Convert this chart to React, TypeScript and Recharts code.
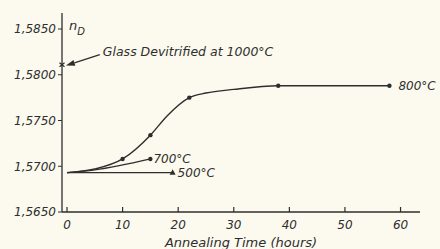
import { LineChart, Line, XAxis, YAxis, ReferenceDot, ReferenceLine } from "recharts";

// annealing time (hours) and refractive index n_D
const hours800 = [0, 5, 10, 15, 18, 22, 25, 30, 38, 58];
const nD800 = [1.5693, 1.5697, 1.5708, 1.5734, 1.5755, 1.5775, 1.5780, 1.5784, 1.5788, 1.5788];
const dots800 = [false, false, true, true, false, true, false, false, true, true];

const hours700 = [0, 5, 15];
const nD700 = [1.5693, 1.5696, 1.5708];

const hours500 = [0, 19];
const nD500 = [1.5693, 1.5693];

const xTicks = [0, 10, 20, 30, 40, 50, 60];
const yTicks = [1.565, 1.57, 1.575, 1.58, 1.585];

// devitrified glass marker and its arrow (data coordinates)
const devitrified = { hours: -0.9, nD: 1.5811 };
const arrowFrom = { hours: 5.9, nD: 1.5822 };
const arrowTo = { hours: -0.2, nD: 1.5810 };

const ink = "#2e2e2e";
const font = "'DejaVu Sans', sans-serif";

const data800 = hours800.map((h, i) => ({ hours: h, nD: nD800[i], dot: dots800[i] }));
const data700 = hours700.map((h, i) => ({ hours: h, nD: nD700[i] }));
const data500 = hours500.map((h, i) => ({ hours: h, nD: nD500[i] }));

const fmtY = (v: number) => v.toFixed(4).replace(".", ",");

function XTick(props: any) {
  const { x, y, payload } = props;
  return (
    <g>
      <line x1={x} y1={y} x2={x} y2={y - 5} stroke={ink} strokeWidth={1.2} />
      <text x={x} y={y + 17} textAnchor="middle" fontSize={12} fontStyle="italic" fill={ink} fontFamily={font}>
        {payload.value}
      </text>
    </g>
  );
}

const endLabel = (text: string, count: number, dx: number) => (props: any) => {
  const { x, y, index } = props;
  if (index !== count - 1) return null;
  return (
    <text x={x + dx} y={y + 4} fontSize={12} fontStyle="italic" fill={ink} fontFamily={font}>
      {text}
    </text>
  );
};

const roundDot = (props: any) => {
  const { cx, cy, payload } = props;
  if (!payload.dot) return <g key={props.key} />;
  return <circle key={props.key} cx={cx} cy={cy} r={2.2} fill={ink} />;
};

const endDot = (count: number, tri: boolean) => (props: any) => {
  const { cx, cy, index } = props;
  if (index !== count - 1) return <g key={props.key} />;
  if (tri) return <polygon key={props.key} points={`${cx},${cy - 3.5} ${cx - 3},${cy + 2} ${cx + 3},${cy + 2}`} fill={ink} />;
  return <circle key={props.key} cx={cx} cy={cy} r={2.2} fill={ink} />;
};

const Arrow = (props: any) => {
  const { x1, y1, x2, y2 } = props;
  const a = Math.atan2(y2 - y1, x2 - x1);
  const L = 9;
  const W = 3;
  const bx = x2 - L * Math.cos(a);
  const by = y2 - L * Math.sin(a);
  const px = -Math.sin(a) * W;
  const py = Math.cos(a) * W;
  return (
    <g>
      <line x1={x1} y1={y1} x2={bx} y2={by} stroke={ink} strokeWidth={1.4} />
      <polygon points={`${x2},${y2} ${bx + px},${by + py} ${bx - px},${by - py}`} fill={ink} />
    </g>
  );
};

const Cross = (props: any) => {
  const { cx, cy } = props;
  return (
    <g stroke={ink} strokeWidth={1.2}>
      <line x1={cx - 2.5} y1={cy - 2} x2={cx + 2.5} y2={cy + 2} />
      <line x1={cx - 2.5} y1={cy + 2} x2={cx + 2.5} y2={cy - 2} />
    </g>
  );
};

const NdLabel = (props: any) => {
  const { viewBox } = props;
  const x = viewBox.x + viewBox.width + 7;
  const y = viewBox.y + 17;
  return (
    <text x={x} y={y} fontSize={13} fontStyle="italic" fill={ink} fontFamily={font}>
      n
      <tspan fontSize={10} dy={5}>
        D
      </tspan>
    </text>
  );
};

export default function App() {
  return (
    <div style={{ position: "absolute", left: 0, top: 0, width: 440, height: 249, background: "#fcfaee" }}>
      <LineChart width={440} height={249} margin={{ top: 13, right: 20, left: 0, bottom: 0 }}>
        <XAxis
          dataKey="hours"
          type="number"
          domain={[-0.9, 63.5]}
          ticks={xTicks}
          allowDataOverflow
          height={37}
          tickSize={0}
          tickMargin={0}
          tickLine={false}
          tick={<XTick />}
          axisLine={{ stroke: ink, strokeWidth: 1.3 }}
          label={{
            value: "Annealing Time (hours)",
            position: "insideBottom",
            offset: 2,
            fontSize: 13,
            fontStyle: "italic",
            fill: ink,
            fontFamily: font,
          }}
        />
        <YAxis
          type="number"
          domain={[1.565, 1.58675]}
          ticks={yTicks}
          allowDataOverflow
          width={62}
          tickSize={4}
          tickFormatter={fmtY}
          tick={{ fontSize: 12, fontStyle: "italic", fill: ink, fontFamily: font }}
          tickLine={{ stroke: ink }}
          axisLine={{ stroke: ink, strokeWidth: 1.3 }}
          label={<NdLabel />}
        />
        <Line
          data={data800}
          dataKey="nD"
          type="monotone"
          stroke={ink}
          strokeWidth={1.4}
          dot={roundDot}
          activeDot={false}
          label={endLabel("800°C", data800.length, 9)}
          isAnimationActive={false}
        />
        <Line
          data={data700}
          dataKey="nD"
          type="monotone"
          stroke={ink}
          strokeWidth={1.3}
          dot={endDot(data700.length, false)}
          activeDot={false}
          label={endLabel("700°C", data700.length, 3)}
          isAnimationActive={false}
        />
        <Line
          data={data500}
          dataKey="nD"
          type="linear"
          stroke={ink}
          strokeWidth={1.3}
          dot={endDot(data500.length, true)}
          activeDot={false}
          label={endLabel("500°C", data500.length, 5)}
          isAnimationActive={false}
        />
        <ReferenceLine
          segment={[
            { x: arrowFrom.hours, y: arrowFrom.nD },
            { x: arrowTo.hours, y: arrowTo.nD },
          ]}
          shape={<Arrow />}
          ifOverflow="visible"
        />
        <ReferenceDot x={devitrified.hours} y={devitrified.nD} shape={<Cross />} ifOverflow="visible" />
        <ReferenceDot
          x={arrowFrom.hours}
          y={arrowFrom.nD}
          ifOverflow="visible"
          shape={(p: any) => (
            <text x={p.cx + 3} y={p.cy + 1} fontSize={12.5} fontStyle="italic" fill={ink} fontFamily={font}>
              Glass Devitrified at 1000°C
            </text>
          )}
        />
      </LineChart>
    </div>
  );
}
